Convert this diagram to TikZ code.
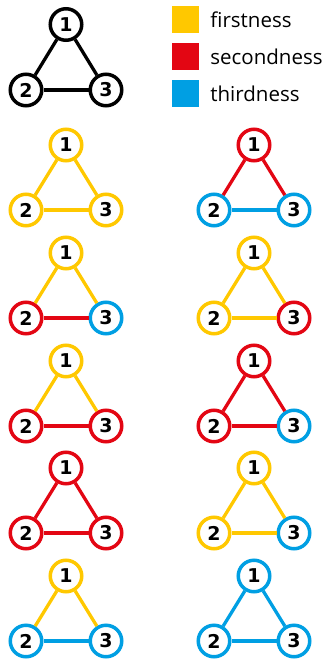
\documentclass[tikz,border=0pt]{standalone}
\usepackage{fontspec}
\setmainfont{Open Sans}
\newfontfamily\numfont{DejaVu Sans}
\usetikzlibrary{positioning}
\definecolor{first}{HTML}{FFC800}
\definecolor{second}{HTML}{E30613}
\definecolor{third}{HTML}{009FE3}

\begin{document}
\begin{tikzpicture}[x=1pt,y=-1pt,
  vert/.style={circle,draw=#1,fill=white,line width=3.5pt,minimum size=31.5pt,inner sep=0pt,
    font=\numfont\bfseries\fontsize{19}{19}\selectfont},
  link/.style={draw=#1,line width=3.3pt},
  swatch/.style={fill=#1,minimum width=27pt,minimum height=27pt,inner sep=0pt},
  legend/.style={font=\fontsize{20.5}{24}\selectfont,inner sep=0pt}]
\useasboundingbox (0,0) rectangle (328,661);
% plain triad, uncoloured
\node[vert=black] (k1) at (66,24.5) {1};
\node[vert=black] (k2) at (26,90) {2};
\node[vert=black] (k3) at (106,90) {3};
\draw[link=black] (k1) -- (k2);
\draw[link=black] (k1) -- (k3);
\draw[link=black] (k2) -- (k3);
% legend
\node[swatch=first] (sw1) at (185.5,20) {};
\node[swatch=second] (sw2) at (185.5,56.5) {};
\node[swatch=third] (sw3) at (185.5,93.5) {};
\node[legend,right=11pt of sw1] (lb1) {firstness};
\node[legend,right=11pt of sw2] (lb2) {secondness};
\node[legend,right=11pt of sw3] (lb3) {thirdness};
% the ten coloured triads: edges from 1 take colour of 1, edge 2-3 that of 2
\foreach \x/\y/\ca/\cb/\cc [count=\i] in {
  66/145/first/first/first,     254/145/second/third/third,
  66/253/first/second/third,    254/253/first/first/second,
  66/361/first/second/second,   254/361/second/second/third,
  66/468/second/second/second,  254/468/first/first/third,
  66/576/first/third/third,     254/576/third/third/third}{
  \node[vert=\ca] (t\i a) at (\x,\y) {1};
  \node[vert=\cb] (t\i b) at (\x-40,\y+65) {2};
  \node[vert=\cc] (t\i c) at (\x+40,\y+65) {3};
  \draw[link=\ca] (t\i a) -- (t\i b);
  \draw[link=\ca] (t\i a) -- (t\i c);
  \draw[link=\cb] (t\i b) -- (t\i c);
}
\end{tikzpicture}
\end{document}
